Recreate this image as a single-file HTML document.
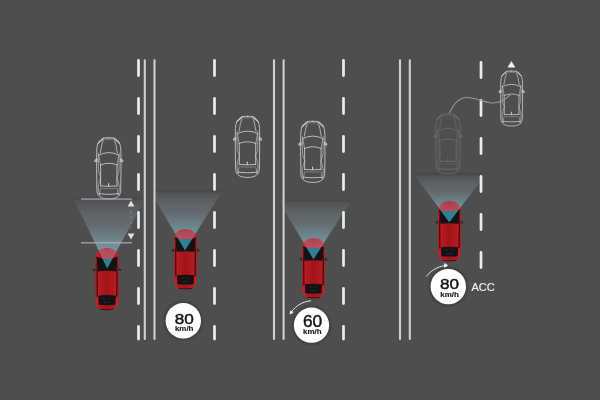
<!DOCTYPE html>
<html><head><meta charset="utf-8">
<style>
html,body{margin:0;padding:0;background:#4e4e4f;}
body{width:600px;height:400px;overflow:hidden;}
svg{display:block;}
text{will-change:transform;}
text{font-family:"Liberation Sans",sans-serif;}
</style></head><body>
<svg width="600" height="400" viewBox="0 0 600 400">
<defs>
<filter id="soft" x="-20%" y="-10%" width="140%" height="120%"><feGaussianBlur stdDeviation="0.28"/></filter>
<linearGradient id="shd" x1="0" y1="0" x2="0" y2="1"><stop offset="0" stop-color="#000" stop-opacity="0"/><stop offset="0.7" stop-color="#000" stop-opacity="0.07"/><stop offset="1" stop-color="#000" stop-opacity="0.03"/></linearGradient>
<linearGradient id="cg" x1="0" y1="0" x2="0" y2="1">
<stop offset="0" stop-color="#040505"/>
<stop offset="0.2" stop-color="#1a1e20"/>
<stop offset="0.35" stop-color="#1e272b"/>
<stop offset="0.6" stop-color="#2c525c"/>
<stop offset="0.85" stop-color="#3c7a8a"/>
<stop offset="1" stop-color="#4a9cae"/>
</linearGradient>
<linearGradient id="redg" x1="0" y1="0" x2="1" y2="0">
<stop offset="0" stop-color="#a8161c"/>
<stop offset="0.06" stop-color="#cc222a"/>
<stop offset="0.2" stop-color="#b4181f"/>
<stop offset="0.5" stop-color="#a2141b"/>
<stop offset="0.8" stop-color="#b4181f"/>
<stop offset="0.94" stop-color="#cc222a"/>
<stop offset="1" stop-color="#a8161c"/>
</linearGradient>
<g id="ocar" filter="url(#soft)" fill="none" stroke="#cdcdcd" stroke-width="0.85" stroke-linecap="round" stroke-linejoin="round">
<path d="M12,0.5 C14.5,0.5 16.5,0.6 17.5,0.9 C19.5,1.8 21.6,3.6 22.8,6 C23.8,8.5 24.1,12 24.1,15 L24.2,31 L23.9,53 C23.7,58.5 20.5,61.6 12,61.6 C3.5,61.6 0.3,58.5 0.1,53 L-0.2,31 L-0.1,15 C-0.1,12 0.2,8.5 1.2,6 C2.4,3.6 4.5,1.8 6.5,0.9 C7.5,0.6 9.5,0.5 12,0.5 Z"/>
<path d="M7,0.6 L17,0.6 L16.8,2.8 L7.2,2.8 Z" fill="#c4c4c4" fill-opacity="0.3" stroke="none"/>
<path d="M1.2,6 L6.8,1 M22.8,6 L17.2,1" stroke-width="1.1"/>
<path d="M1.6,16 C1.7,22 1.6,28 1.8,33 C2.2,36.5 3.6,38.5 3.8,40.5 C3.2,43 1.9,45.5 1.6,48 C1.3,51 1.6,54.5 2.6,57.5 M22.4,16 C22.3,22 22.4,28 22.2,33 C21.8,36.5 20.4,38.5 20.2,40.5 C20.8,43 22.1,45.5 22.4,48 C22.7,51 22.4,54.5 21.4,57.5" stroke-opacity="0.7" stroke-width="0.85"/>
<path d="M6.4,3.2 C5.2,6 4.5,9 4.2,12 L3.4,15.6 M17.6,3.2 C18.8,6 19.5,9 19.8,12 L20.6,15.6" stroke-width="0.9" stroke-opacity="0.85"/>
<path d="M2,17.8 Q12,12.6 22,17.8"/>
<path d="M3.7,27.6 Q12,24.2 20.3,27.6"/>
<path d="M2,17.8 L3.7,27.6 M22,17.8 L20.3,27.6" stroke-opacity="0.7"/>
<path d="M3.7,27.6 C3.9,35 3.9,42 3.8,48.6 M20.3,27.6 C20.1,35 20.1,42 20.2,48.6"/>
<path d="M3.8,48.6 Q12,49.6 20.2,48.6"/>
<path d="M2.6,57.5 L3.5,52 M21.4,57.5 L20.5,52" stroke-opacity="0.6"/>
<path d="M3.8,51 Q12,51.8 20.2,51" stroke-opacity="0.45" stroke-width="0.8"/>
<path d="M11.8,46.2 L11.8,48.8" stroke-width="1.1"/>
<path d="M2.6,56.5 Q12,57.6 21.4,56.5"/>
<path d="M0,21.6 L-2,22.8 L-2,24.3 L0,24.3 Z M24.1,21.6 L26.1,22.8 L26.1,24.3 L24.1,24.3 Z" fill="#cacaca" fill-opacity="0.5"/>
</g>
<path id="bd" d="M11.5,0 C17.5,0 22.3,3 22.8,10 L23.1,30 L22.9,50 C22.7,57 20,60.2 11.5,60.2 C3,60.2 0.3,57 0.1,50 L-0.1,30 L0.2,10 C0.7,3 5.5,0 11.5,0 Z"/>
<path id="ws" d="M1.0,8.2 C4,9.9 8,10.6 11.5,10.6 C15,10.6 19,9.9 22,8.2 L20.5,22.8 Q11.5,21.6 2.5,22.8 Z"/>
<g id="rcar">
<use href="#bd" fill="url(#redg)"/>
<use href="#ws" fill="#141214"/>
<path d="M1.1,12 L2.3,22.5 L2.5,46.5 L1.3,48 Z M21.9,12 L20.7,22.5 L20.5,46.5 L21.7,48 Z" fill="#2a0a0e"/>
<path d="M2.8,46.3 Q11.5,45.2 20.2,46.3 L19.6,55.2 Q11.5,55.9 3.4,55.2 Z" fill="#141214"/>
<path d="M7,49 L10,49 M12.5,49 L15,49 M8,52.5 L14,52.5" stroke="#555" stroke-width="0.5" opacity="0.6"/>
<path d="M0.1,19.5 L-2.3,20.8 L-2.3,22.4 L0,22.4 Z M22.9,19.5 L25.3,20.8 L25.3,22.4 L23,22.4 Z" fill="#2a2a2a"/>
<path d="M5,59.4 Q11.5,60.6 18,59.4" stroke="#3a0508" stroke-width="0.8" fill="none"/>
</g>
</defs>
<rect width="600" height="400" fill="#4e4e4f"/>
<rect x="137.15" y="59.00" width="2.7" height="18.00" rx="1.4" fill="#ececec"/>
<rect x="137.15" y="97.00" width="2.7" height="18.00" rx="1.4" fill="#ececec"/>
<rect x="137.15" y="135.00" width="2.7" height="18.00" rx="1.4" fill="#ececec"/>
<rect x="137.15" y="173.00" width="2.7" height="18.00" rx="1.4" fill="#ececec"/>
<rect x="137.15" y="211.00" width="2.7" height="18.00" rx="1.4" fill="#ececec"/>
<rect x="137.15" y="249.00" width="2.7" height="18.00" rx="1.4" fill="#ececec"/>
<rect x="137.15" y="287.00" width="2.7" height="18.00" rx="1.4" fill="#ececec"/>
<rect x="137.15" y="325.00" width="2.7" height="15.50" rx="1.4" fill="#ececec"/>
<rect x="143.75" y="59.2" width="2.1" height="280.8" rx="1.2" fill="#d0d0d0"/>
<rect x="153.45" y="59.2" width="2.1" height="280.8" rx="1.2" fill="#d0d0d0"/>
<rect x="213.15" y="59.00" width="2.7" height="18.00" rx="1.4" fill="#ececec"/>
<rect x="213.15" y="97.00" width="2.7" height="18.00" rx="1.4" fill="#ececec"/>
<rect x="213.15" y="135.00" width="2.7" height="18.00" rx="1.4" fill="#ececec"/>
<rect x="213.15" y="173.00" width="2.7" height="18.00" rx="1.4" fill="#ececec"/>
<rect x="213.15" y="211.00" width="2.7" height="18.00" rx="1.4" fill="#ececec"/>
<rect x="213.15" y="249.00" width="2.7" height="18.00" rx="1.4" fill="#ececec"/>
<rect x="213.15" y="287.00" width="2.7" height="18.00" rx="1.4" fill="#ececec"/>
<rect x="213.15" y="325.00" width="2.7" height="15.50" rx="1.4" fill="#ececec"/>
<rect x="272.95" y="59.2" width="2.1" height="280.8" rx="1.2" fill="#d0d0d0"/>
<rect x="282.55" y="59.2" width="2.1" height="280.8" rx="1.2" fill="#d0d0d0"/>
<rect x="342.15" y="59.00" width="2.7" height="18.00" rx="1.4" fill="#ececec"/>
<rect x="342.15" y="97.00" width="2.7" height="18.00" rx="1.4" fill="#ececec"/>
<rect x="342.15" y="135.00" width="2.7" height="18.00" rx="1.4" fill="#ececec"/>
<rect x="342.15" y="173.00" width="2.7" height="18.00" rx="1.4" fill="#ececec"/>
<rect x="342.15" y="211.00" width="2.7" height="18.00" rx="1.4" fill="#ececec"/>
<rect x="342.15" y="249.00" width="2.7" height="18.00" rx="1.4" fill="#ececec"/>
<rect x="342.15" y="287.00" width="2.7" height="18.00" rx="1.4" fill="#ececec"/>
<rect x="342.15" y="325.00" width="2.7" height="15.50" rx="1.4" fill="#ececec"/>
<rect x="398.95" y="59.2" width="2.1" height="280.8" rx="1.2" fill="#d0d0d0"/>
<rect x="408.75" y="59.2" width="2.1" height="280.8" rx="1.2" fill="#d0d0d0"/>
<rect x="479.65" y="61.00" width="2.7" height="18.00" rx="1.4" fill="#ececec"/>
<rect x="479.65" y="99.00" width="2.7" height="18.00" rx="1.4" fill="#ececec"/>
<rect x="479.65" y="137.00" width="2.7" height="18.00" rx="1.4" fill="#ececec"/>
<rect x="479.65" y="175.00" width="2.7" height="18.00" rx="1.4" fill="#ececec"/>
<rect x="479.65" y="213.00" width="2.7" height="18.00" rx="1.4" fill="#ececec"/>
<rect x="479.65" y="251.00" width="2.7" height="18.00" rx="1.4" fill="#ececec"/>

<!-- outline cars -->
<use href="#ocar" transform="translate(96.8,137.3)"/>
<use href="#ocar" transform="translate(235.5,115.8)"/>
<use href="#ocar" transform="translate(300.8,120.8)"/>
<use href="#ocar" transform="translate(436,113.5) scale(1,0.98)" opacity="0.22"/>
<use href="#ocar" transform="translate(500.8,70.6) scale(0.9)"/>

<!-- red cars -->
<use href="#rcar" transform="translate(95.3,248) scale(1.02,1.03)"/>
<use href="#rcar" transform="translate(174,229)"/>
<use href="#rcar" transform="translate(302,238)"/>
<use href="#rcar" transform="translate(438,201)"/>
<clipPath id="wc0"><use href="#ws" transform="translate(95.3,248) scale(1.02,1.03)"/></clipPath>
<clipPath id="cc0"><polygon points="74,199.7 145,199.7 107.2,268"/></clipPath>
<clipPath id="lc0"><rect x="60" y="0" width="83.75" height="400"/></clipPath>
<rect x="74.00" y="195.70" width="69.75" height="4" fill="url(#shd)"/>
<g clip-path="url(#lc0)" style="mix-blend-mode:screen"><polygon points="74,199.7 145,199.7 107.2,268" fill="url(#cg)"/></g>
<g clip-path="url(#cc0)"><use href="#bd" transform="translate(95.3,248) scale(1.02,1.03)" fill="#a8141e" opacity="0.42"/></g>
<polygon points="74,199.7 145,199.7 107.2,268" fill="#20889a" opacity="0.9" clip-path="url(#wc0)"/>
<clipPath id="wc1"><use href="#ws" transform="translate(174,229)"/></clipPath>
<clipPath id="cc1"><polygon points="151,192.7 221.5,192.7 185,250"/></clipPath>
<clipPath id="lc1"><rect x="155.55" y="0" width="444.45" height="400"/></clipPath>
<rect x="155.55" y="188.70" width="65.95" height="4" fill="url(#shd)"/>
<g clip-path="url(#lc1)" style="mix-blend-mode:screen"><polygon points="151,192.7 221.5,192.7 185,250" fill="url(#cg)"/></g>
<g clip-path="url(#cc1)"><use href="#bd" transform="translate(174,229)" fill="#a8141e" opacity="0.42"/></g>
<polygon points="151,192.7 221.5,192.7 185,250" fill="#20889a" opacity="0.9" clip-path="url(#wc1)"/>
<clipPath id="wc2"><use href="#ws" transform="translate(302,238)"/></clipPath>
<clipPath id="cc2"><polygon points="279,201.8 350.5,201.8 313.5,259"/></clipPath>
<clipPath id="lc2"><rect x="284.65" y="0" width="315.35" height="400"/></clipPath>
<rect x="284.65" y="197.80" width="65.85" height="4" fill="url(#shd)"/>
<g clip-path="url(#lc2)" style="mix-blend-mode:screen"><polygon points="279,201.8 350.5,201.8 313.5,259" fill="url(#cg)"/></g>
<g clip-path="url(#cc2)"><use href="#bd" transform="translate(302,238)" fill="#a8141e" opacity="0.42"/></g>
<polygon points="279,201.8 350.5,201.8 313.5,259" fill="#20889a" opacity="0.9" clip-path="url(#wc2)"/>
<clipPath id="wc3"><use href="#ws" transform="translate(438,201)"/></clipPath>
<clipPath id="cc3"><polygon points="414.8,175.5 485,175.5 449.3,222"/></clipPath>
<clipPath id="lc3"><rect x="410.85" y="0" width="189.15" height="400"/></clipPath>
<rect x="414.80" y="171.50" width="70.20" height="4" fill="url(#shd)"/>
<g clip-path="url(#lc3)" style="mix-blend-mode:screen"><polygon points="414.8,175.5 485,175.5 449.3,222" fill="url(#cg)"/></g>
<g clip-path="url(#cc3)"><use href="#bd" transform="translate(438,201)" fill="#a8141e" opacity="0.42"/></g>
<polygon points="414.8,175.5 485,175.5 449.3,222" fill="#20889a" opacity="0.9" clip-path="url(#wc3)"/>
<!-- distance lines car1 -->
<rect x="81" y="198.5" width="51" height="1.1" fill="#b4b4b4"/>
<rect x="81" y="242.3" width="51" height="1.1" fill="#b4b4b4"/>
<polygon points="131,200.5 127.6,206.5 134.4,206.5" fill="#e0e0e0"/>
<polygon points="131,239.5 127.6,233.5 134.4,233.5" fill="#e0e0e0"/>
<path d="M131,211 L131,229" stroke="#b0b0b0" stroke-width="0.7" stroke-dasharray="3 2" opacity="0.55"/>

<!-- lane change curve -->
<path d="M449.5,113 C453,105 459,97.5 467,97.5 C475,97.5 482,101.5 490,102.8 C498,103.8 505,100 510.5,94.5" fill="none" stroke="#999999" stroke-width="1.1"/>
<polygon points="511.4,61.4 507.9,67.2 514.9,67.2" fill="#f2f2f2" stroke="#f2f2f2" stroke-width="0.5" stroke-linejoin="round"/>

<!-- badges -->
<circle cx="183.3" cy="320.8" r="19" fill="none" stroke="#3c3c3c" stroke-width="2.6" opacity="0.45"/>
<circle cx="183.3" cy="320.8" r="17.7" fill="#ffffff"/>
<text x="184.2" y="324" font-size="15.2" text-anchor="middle" fill="#161616" stroke="#161616" stroke-width="0.45" transform="translate(184.3 0) scale(1.13 1) translate(-184.3 0)">80</text>
<text x="184.2" y="330.7" font-size="6.9" font-weight="bold" text-anchor="middle" fill="#222222" stroke="#222222" stroke-width="0.15" textLength="18.6" lengthAdjust="spacingAndGlyphs">km/h</text>

<circle cx="311.5" cy="325.2" r="19" fill="none" stroke="#3c3c3c" stroke-width="2.6" opacity="0.45"/>
<circle cx="311.5" cy="325.2" r="17.6" fill="#ffffff"/>
<text x="312.6" y="327.5" font-size="15.6" text-anchor="middle" fill="#161616" stroke="#161616" stroke-width="0.45" transform="translate(312.6 0) scale(1.11 1) translate(-312.6 0)">60</text>
<text x="312.3" y="333.75" font-size="6.9" font-weight="bold" text-anchor="middle" fill="#222222" stroke="#222222" stroke-width="0.15" textLength="18.6" lengthAdjust="spacingAndGlyphs">km/h</text>
<path d="M310.6,300.8 C303,301.5 296,305.5 291.6,311.8" fill="none" stroke="#e4e4e4" stroke-width="1.0" stroke-linecap="round"/>
<polygon points="290,313.9 290.6,310.9 293,312.5" fill="#f0f0f0" stroke="#f0f0f0" stroke-width="0.9" stroke-linejoin="round"/>

<circle cx="448.3" cy="286.6" r="19" fill="none" stroke="#3c3c3c" stroke-width="2.6" opacity="0.45"/>
<circle cx="448.3" cy="286.6" r="17.7" fill="#ffffff"/>
<text x="449.5" y="289.4" font-size="14.9" text-anchor="middle" fill="#161616" stroke="#161616" stroke-width="0.45" transform="translate(449.5 0) scale(1.15 1) translate(-449.5 0)">80</text>
<text x="449.6" y="296.6" font-size="6.9" font-weight="bold" text-anchor="middle" fill="#222222" stroke="#222222" stroke-width="0.15" textLength="18.6" lengthAdjust="spacingAndGlyphs">km/h</text>
<path d="M426.5,276.2 C431,270.5 437.5,266.5 445,265.6" fill="none" stroke="#e4e4e4" stroke-width="1.0" stroke-linecap="round"/>
<polygon points="447.6,265.4 444.6,263.6 444.6,267.2" fill="#f0f0f0" stroke="#f0f0f0" stroke-width="0.9" stroke-linejoin="round"/>
<text x="471.5" y="290.7" font-size="11" fill="#eeeeee" stroke="#eeeeee" stroke-width="0.2">ACC</text>

</svg>
</body></html>
